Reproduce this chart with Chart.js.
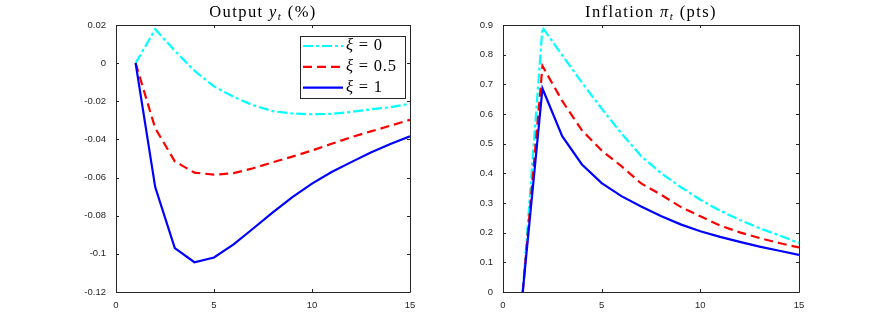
<!DOCTYPE html>
<html>
<head>
<meta charset="utf-8">
<script src="https://cdn.jsdelivr.net/npm/chart.js@4.4.1/dist/chart.umd.min.js"></script>
<style>
  body { margin: 0; background: #fff; }
  #wrap { position: relative; width: 884px; height: 329px; }
  .caixa { position: absolute; top: 0; width: 442px; height: 329px; }
</style>
</head>
<body>
<div id="wrap">
  <div class="caixa" style="left:0"><canvas id="graficoProduto" width="442" height="329"></canvas></div>
  <div class="caixa" style="left:442px"><canvas id="graficoInflacao" width="442" height="329"></canvas></div>
</div>
<script>
// dados
const periodos = [1, 2, 3, 4, 5, 6, 7, 8, 9, 10, 11, 12, 13, 14, 15];
const xiValores = ['0', '0.5', '1'];

const produtoXi0  = [0, 0.0178, 0.0065, -0.0040, -0.0122, -0.0177, -0.0221, -0.0252, -0.0264, -0.0268, -0.0266, -0.0256, -0.0242, -0.0231, -0.0213];
const produtoXi05 = [0, -0.0341, -0.0515, -0.0574, -0.0585, -0.0577, -0.0551, -0.0520, -0.0490, -0.0458, -0.0423, -0.0388, -0.0358, -0.0328, -0.0297];
const produtoXi1  = [0, -0.0650, -0.0970, -0.1044, -0.1019, -0.0950, -0.0867, -0.0783, -0.0702, -0.0632, -0.0571, -0.0519, -0.0468, -0.0424, -0.0384];

const inflacaoXi0  = [0, 0.892, 0.798, 0.706, 0.618, 0.535, 0.458, 0.401, 0.354, 0.311, 0.274, 0.243, 0.215, 0.191, 0.165];
const inflacaoXi05 = [0, 0.762, 0.644, 0.545, 0.477, 0.424, 0.366, 0.328, 0.287, 0.255, 0.224, 0.201, 0.182, 0.165, 0.150];
const inflacaoXi1  = [0, 0.686, 0.525, 0.430, 0.367, 0.323, 0.288, 0.256, 0.228, 0.205, 0.186, 0.169, 0.153, 0.139, 0.125];

const xTicks = [0, 5, 10, 15];
const produtoTicks = [-0.12, -0.1, -0.08, -0.06, -0.04, -0.02, 0, 0.02];
const produtoTickLabels = ['-0.12', '-0.1', '-0.08', '-0.06', '-0.04', '-0.02', '0', '0.02'];
const inflacaoTicks = [0, 0.1, 0.2, 0.3, 0.4, 0.5, 0.6, 0.7, 0.8, 0.9];
const inflacaoTickLabels = ['0', '0.1', '0.2', '0.3', '0.4', '0.5', '0.6', '0.7', '0.8', '0.9'];

// estilos das series (xi = 0, 0.5, 1)
const estilos = [
  { cor: '#00ffff', traco: [10, 3, 3, 3], ordem: 3 },
  { cor: '#ff0000', traco: [9, 5], ordem: 2 },
  { cor: '#0000ff', traco: [], ordem: 1 }
];

const corEixo = '#262626';
const fonteTick = { family: 'Liberation Sans', size: 9.5 };

function pontos(valores) {
  return periodos.map((p, i) => ({ x: p, y: valores[i] }));
}

function montaDatasets(series) {
  return series.map((valores, i) => ({
    label: 'xi = ' + xiValores[i],
    data: pontos(valores),
    borderColor: estilos[i].cor,
    borderDash: estilos[i].traco,
    borderWidth: 2.2,
    pointRadius: 0,
    tension: 0,
    fill: false,
    order: estilos[i].ordem
  }));
}

function fonte(p) {
  const tam = p.sub ? 11 : 16.5;
  return (p.it ? 'italic ' : '') + tam + 'px "Liberation Serif"';
}

// caixa estilo matlab com ticks para dentro
const caixaPlugin = {
  id: 'caixa',
  afterDatasetsDraw(chart) {
    const ctx = chart.ctx;
    const a = chart.chartArea;
    const sx = chart.scales.x, sy = chart.scales.y;
    ctx.save();
    ctx.strokeStyle = corEixo;
    ctx.lineWidth = 1;
    ctx.beginPath();
    ctx.rect(Math.round(a.left) + 0.5, Math.round(a.top) + 0.5, Math.round(a.right - a.left), Math.round(a.bottom - a.top));
    sx.ticks.forEach(t => {
      const px = Math.round(sx.getPixelForValue(t.value)) + 0.5;
      ctx.moveTo(px, a.bottom); ctx.lineTo(px, a.bottom - 3);
      ctx.moveTo(px, a.top); ctx.lineTo(px, a.top + 3);
    });
    sy.ticks.forEach(t => {
      const py = Math.round(sy.getPixelForValue(t.value)) + 0.5;
      ctx.moveTo(a.left, py); ctx.lineTo(a.left + 3, py);
      ctx.moveTo(a.right, py); ctx.lineTo(a.right - 3, py);
    });
    ctx.stroke();
    ctx.restore();
  }
};

const tituloPlugin = {
  id: 'titulo',
  afterDraw(chart, args, opts) {
    const ctx = chart.ctx;
    const a = chart.chartArea;
    ctx.save();
    ctx.fillStyle = '#000';
    ctx.textBaseline = 'alphabetic';
    ctx.letterSpacing = '1.4px';
    let total = 0;
    const larguras = opts.partes.map(p => {
      ctx.font = fonte(p);
      const w = ctx.measureText(p.t).width;
      total += w;
      return w;
    });
    let x = (a.left + a.right) / 2 - total / 2;
    opts.partes.forEach((p, i) => {
      ctx.font = fonte(p);
      ctx.fillText(p.t, x, opts.y + (p.sub ? 3 : 0));
      x += larguras[i];
    });
    ctx.restore();
  }
};

const legendaPlugin = {
  id: 'legenda',
  afterDraw(chart, args, opts) {
    if (!opts.mostrar) return;
    const ctx = chart.ctx;
    const a = chart.chartArea;
    const w = 105, h = 62;
    const x0 = a.right - 5 - w, y0 = a.top + 11;
    ctx.save();
    ctx.fillStyle = '#fff';
    ctx.fillRect(x0, y0, w, h);
    ctx.strokeStyle = corEixo;
    ctx.lineWidth = 1;
    ctx.strokeRect(Math.round(x0) + 0.5, Math.round(y0) + 0.5, w, h);
    chart.data.datasets.forEach((ds, i) => {
      const yy = y0 + 10 + i * 20.8;
      ctx.strokeStyle = ds.borderColor;
      ctx.lineWidth = ds.borderWidth;
      ctx.setLineDash(ds.borderDash);
      ctx.beginPath();
      ctx.moveTo(x0 + 3, yy);
      ctx.lineTo(x0 + 43, yy);
      ctx.stroke();
      ctx.setLineDash([]);
      ctx.fillStyle = '#000';
      ctx.textBaseline = 'middle';
      ctx.letterSpacing = '0.8px';
      ctx.font = 'italic 16.5px "Liberation Serif"';
      ctx.fillText('\u03BE', x0 + 46, yy);
      const wx = ctx.measureText('\u03BE').width;
      ctx.font = '16.5px "Liberation Serif"';
      ctx.fillText(' = ' + xiValores[i], x0 + 46 + wx, yy);
    });
    ctx.restore();
  }
};

function criaGrafico(id, series, yMin, yMax, yTicks, yLabels, yLargura, padDireita, partesTitulo, mostrarLegenda) {
  return new Chart(document.getElementById(id), {
    type: 'line',
    data: { datasets: montaDatasets(series) },
    options: {
      responsive: false,
      animation: false,
      devicePixelRatio: 1,
      layout: { padding: { top: 25, right: padDireita, left: 0, bottom: 0 } },
      plugins: {
        legend: { display: false },
        tooltip: { enabled: false },
        titulo: { partes: partesTitulo, y: 17 },
        legenda: { mostrar: mostrarLegenda }
      },
      scales: {
        x: {
          type: 'linear',
          min: 0,
          max: 15,
          afterBuildTicks: s => { s.ticks = xTicks.map(v => ({ value: v })); },
          afterFit: s => { s.height = 37; },
          ticks: { font: fonteTick, color: corEixo, padding: 8, maxRotation: 0, autoSkip: false },
          grid: { display: false, drawTicks: false },
          border: { display: false }
        },
        y: {
          type: 'linear',
          min: yMin,
          max: yMax,
          afterBuildTicks: s => { s.ticks = yTicks.map(v => ({ value: v })); },
          afterFit: s => { s.width = yLargura; },
          ticks: {
            font: fonteTick, color: corEixo, padding: 10, autoSkip: false,
            callback: v => yLabels[yTicks.indexOf(v)]
          },
          grid: { display: false, drawTicks: false },
          border: { display: false }
        }
      }
    },
    plugins: [caixaPlugin, tituloPlugin, legendaPlugin]
  });
}

const graficoProduto = criaGrafico('graficoProduto',
  [produtoXi0, produtoXi05, produtoXi1],
  -0.12, 0.02, produtoTicks, produtoTickLabels, 116, 32,
  [{ t: 'Output ' }, { t: 'y', it: true }, { t: 't', it: true, sub: true }, { t: ' (%)' }],
  true);

const graficoInflacao = criaGrafico('graficoInflacao',
  [inflacaoXi0, inflacaoXi05, inflacaoXi1],
  0, 0.9, inflacaoTicks, inflacaoTickLabels, 61, 85,
  [{ t: 'Inflation ' }, { t: '\u03C0', it: true }, { t: 't', it: true, sub: true }, { t: ' (pts)' }],
  false);
</script>
</body>
</html>
